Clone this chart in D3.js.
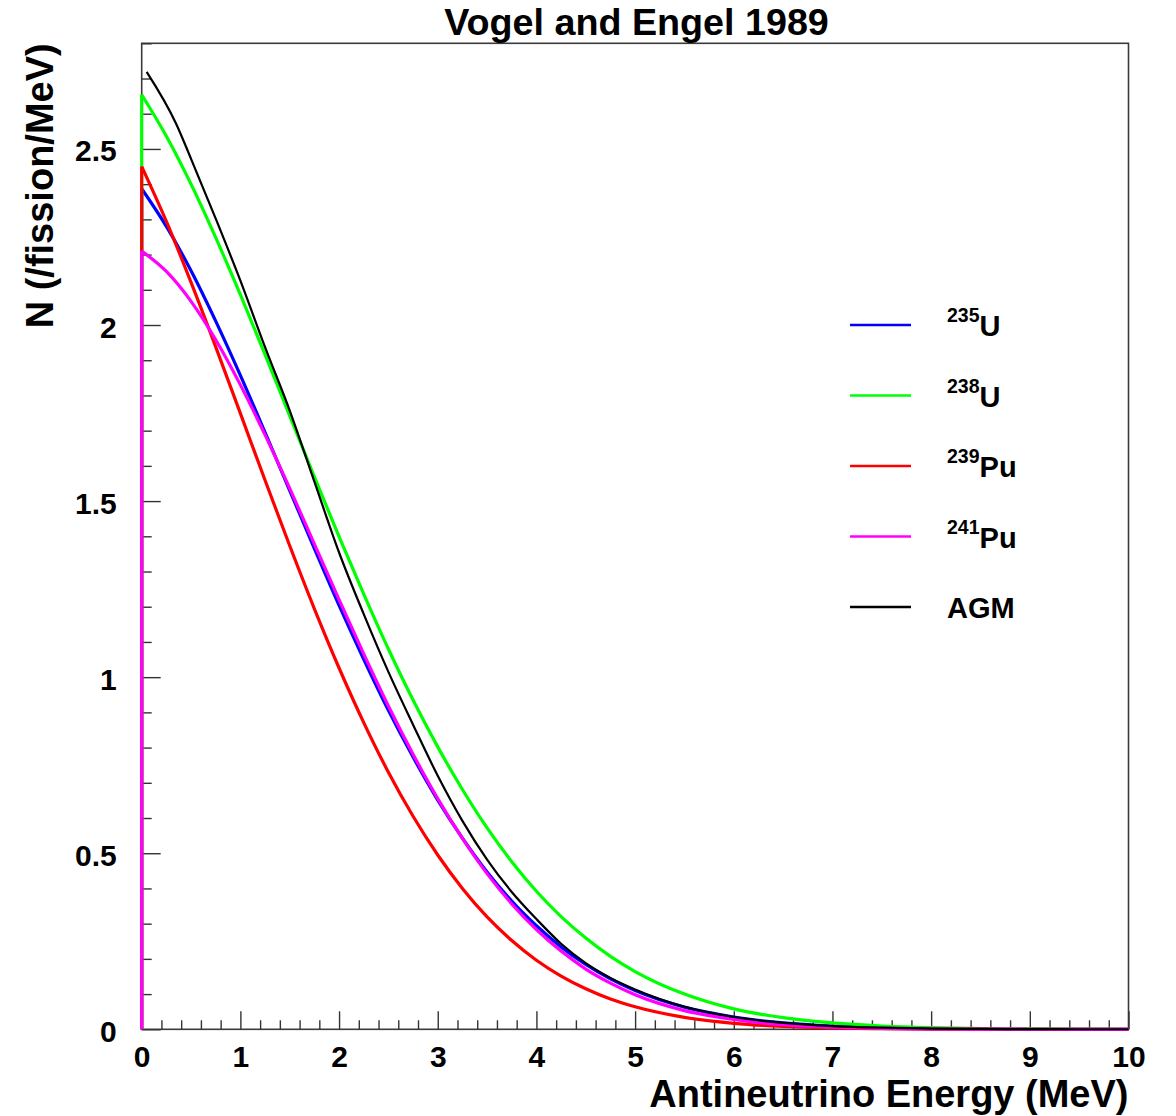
<!DOCTYPE html>
<html><head><meta charset="utf-8">
<script src="https://cdn.jsdelivr.net/npm/d3@7"></script>
<style>
body{margin:0;background:#fff}
svg{display:block}
text{font-family:"Liberation Sans",Arial,Helvetica,sans-serif;font-weight:bold;fill:#000}
</style>
</head><body>
<svg id="chart" width="1176" height="1116"></svg>
<script>
// ---- data ----
const energy = [0,0.25,0.5,0.75,1,1.25,1.5,1.75,2,2.25,2.5,2.75,3,3.25,3.5,3.75,4,4.25,4.5,4.75,5,5.5,6,6.5,7,7.5,8,8.5,9,9.5,10];
const u235 = [2.387,2.280,2.154,2.011,1.857,1.695,1.530,1.365,1.204,1.051,0.906,0.773,0.651,0.543,0.447,0.364,0.294,0.234,0.184,0.143,0.110,0.063,0.035,0.018,0.009,0.0043,0.0020,0.0009,0.0004,0.0001,0.0001];
const u238 = [2.654,2.536,2.400,2.248,2.086,1.916,1.742,1.569,1.399,1.236,1.080,0.935,0.802,0.681,0.572,0.476,0.392,0.320,0.259,0.207,0.164,0.100,0.058,0.033,0.018,0.0093,0.0046,0.0022,0.0010,0.0005,0.0002];
const pu239 = [2.450,2.294,2.121,1.938,1.749,1.559,1.373,1.194,1.026,0.871,0.730,0.605,0.495,0.400,0.319,0.252,0.196,0.151,0.115,0.086,0.064,0.034,0.017,0.008,0.0038,0.0016,0.0007,0.0003,0.0001,0.00004,0.00001];
const pu241 = [2.210,2.152,2.067,1.958,1.830,1.688,1.536,1.378,1.220,1.066,0.918,0.781,0.655,0.542,0.442,0.356,0.283,0.222,0.171,0.131,0.098,0.053,0.028,0.013,0.006,0.0027,0.0011,0.0004,0.0002,0.00005,0.00002];
const agmEnergy = [0.05,0.35,0.5,0.75,1,1.25,1.5,1.75,2,2.25,2.5,2.75,3,3.25,3.5,3.75,4,4.25,4.5,4.75,5,5.5,6,6.5,7,7.5,8,8.5,9,9.5,10];
const agm = [2.719,2.571,2.472,2.302,2.126,1.937,1.757,1.555,1.354,1.179,1.015,0.865,0.720,0.592,0.482,0.390,0.313,0.243,0.188,0.146,0.113,0.064,0.035,0.018,0.009,0.0045,0.0021,0.001,0.0005,0.0002,0.0001];

const legendSup = ["235","238","239","241",""];
const legendBase = ["U","U","Pu","Pu","AGM"];
const xTickValues = [0,1,2,3,4,5,6,7,8,9,10];
const yTickValues = [0,0.5,1,1.5,2,2.5];
const yTickLabels = ["0","0.5","1","1.5","2","2.5"];
const titleText = "Vogel and Engel 1989";
const xTitle = "Antineutrino Energy (MeV)";
const yTitle = "N (/fission/MeV)";

// ---- layout ----
const svg = d3.select("#chart");
const L = 141.7, R = 1128.5, T = 43.3, B = 1029.3;
const x = d3.scaleLinear().domain([0,10]).range([L,R]);
const y = d3.scaleLinear().domain([0,2.8]).range([B,T]);

// frame
svg.append("rect").attr("x",L).attr("y",T).attr("width",R-L).attr("height",B-T)
  .attr("fill","none").attr("stroke","#3a3a3a").attr("stroke-width",1.6);

// x axis minor ticks
const xMinor = d3.range(0,10.001,0.2).filter(v=>Math.abs(v-Math.round(v))>1e-6);
svg.append("g").attr("transform",`translate(0,${B})`)
  .call(d3.axisBottom(x).tickValues(xMinor).tickSize(-9).tickFormat(""))
  .call(g=>g.select(".domain").remove())
  .call(g=>g.selectAll("line").attr("stroke","#333").attr("stroke-width",1.4));
svg.append("g").attr("transform",`translate(0,${B})`)
  .call(d3.axisBottom(x).tickValues(xTickValues).tickSizeInner(-18).tickSizeOuter(0).tickPadding(16).tickFormat(d3.format("d")))
  .call(g=>g.select(".domain").remove())
  .call(g=>g.selectAll("line").attr("stroke","#333").attr("stroke-width",1.4))
  .call(g=>g.selectAll("text").attr("font-size",30).attr("font-family","Liberation Sans, Arial, sans-serif").attr("font-weight","bold").attr("fill","#000"));

// y axis
const yMinor = d3.range(0,2.8001,0.1).filter(v=>Math.abs(v*2-Math.round(v*2))>1e-6);
svg.append("g").attr("transform",`translate(${L},0)`)
  .call(d3.axisLeft(y).tickValues(yMinor).tickSize(-10).tickFormat(""))
  .call(g=>g.select(".domain").remove())
  .call(g=>g.selectAll("line").attr("stroke","#333").attr("stroke-width",1.4));
svg.append("g").attr("transform",`translate(${L},0)`)
  .call(d3.axisLeft(y).tickValues(yTickValues).tickSizeInner(-19).tickSizeOuter(0).tickPadding(25).tickFormat((d,i)=>yTickLabels[i]))
  .call(g=>g.select(".domain").remove())
  .call(g=>g.selectAll("line").attr("stroke","#333").attr("stroke-width",1.4))
  .call(g=>g.selectAll("text").attr("font-size",30).attr("dy","0.4em").attr("font-family","Liberation Sans, Arial, sans-serif").attr("font-weight","bold").attr("fill","#000"));

// curves
const series = [
  {vals:u235, color:"#0000ff"},
  {vals:u238, color:"#00ff00"},
  {vals:pu239, color:"#ff0000"},
  {vals:pu241, color:"#ff00ff"}
];
const smooth = d3.line().x(d=>x(d[0])).y(d=>y(d[1])).curve(d3.curveMonotoneX);
const straight = d3.line().x(d=>x(d[0])).y(d=>y(d[1]));
const plot = svg.append("g");
series.forEach(s=>{
  const pts = energy.map((e,i)=>[e,s.vals[i]]);
  plot.append("path").attr("d",straight([[0,0],[0,s.vals[0]]]))
    .attr("fill","none").attr("stroke",s.color).attr("stroke-width",3.2);
  plot.append("path").attr("d",smooth(pts))
    .attr("fill","none").attr("stroke",s.color).attr("stroke-width",3.2).attr("stroke-linejoin","round");
});
plot.append("path").attr("d",smooth(agmEnergy.map((e,i)=>[e,agm[i]])))
  .attr("fill","none").attr("stroke","#000").attr("stroke-width",2.2).attr("stroke-linejoin","round");

// legend
const legendColors = ["#0000ff","#00ff00","#ff0000","#ff00ff","#000000"];
const legY = d3.scaleLinear().domain([0,4]).range([325,607]);
legendBase.forEach((b,i)=>{
  const ly = legY(i);
  svg.append("line").attr("x1",850).attr("x2",911).attr("y1",ly).attr("y2",ly)
    .attr("stroke",legendColors[i]).attr("stroke-width",2.6);
  const t = svg.append("text").attr("x",947).attr("y",ly+11).attr("font-size",29);
  if (legendSup[i]) {
    t.append("tspan").attr("font-size",19.5).attr("dy",-14).text(legendSup[i]);
    t.append("tspan").attr("dy",14).text(b);
  } else {
    t.append("tspan").text(b);
  }
});

// titles
svg.append("text").attr("x",636.5).attr("y",35).attr("text-anchor","middle").attr("font-size",37.7).text(titleText);
svg.append("text").attr("x",R).attr("y",1107).attr("text-anchor","end").attr("font-size",38).text(xTitle);
svg.append("text").attr("transform",`translate(53,${T}) rotate(-90)`).attr("text-anchor","end").attr("font-size",38).text(yTitle);
</script>
</body></html>
